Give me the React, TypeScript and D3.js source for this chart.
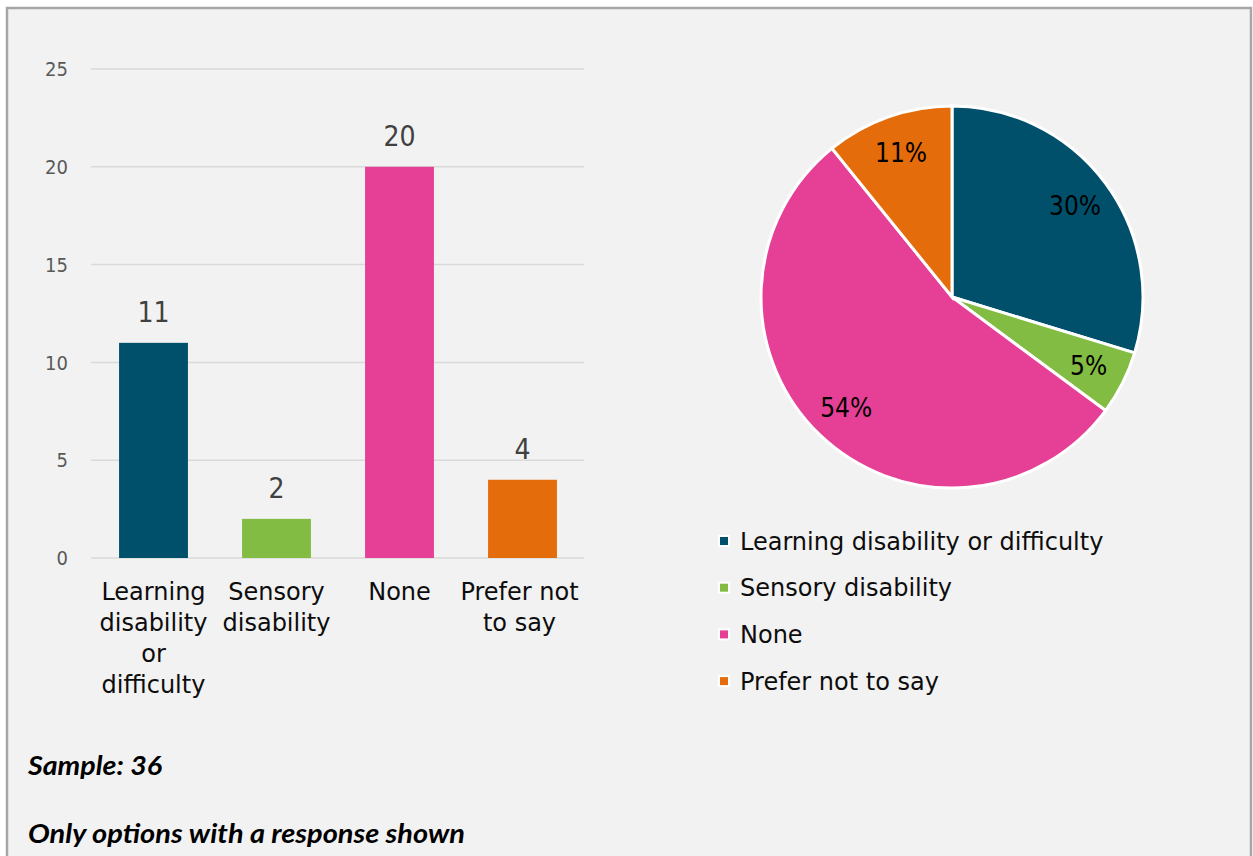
import React from "react";
import * as d3 from "d3";

const categories = ["Learning disability or difficulty", "Sensory disability", "None", "Prefer not to say"];
const categoryLines = [["Learning", "disability", "or", "difficulty"], ["Sensory", "disability"], ["None"], ["Prefer not", "to say"]];
const counts = [11, 2, 20, 4];
const colors = ["#00506b", "#82bc42", "#e54096", "#e46c0a"];
const yTicks = [0, 5, 10, 15, 20, 25];
const sampleText = "Sample: 36";
const noteText = "Only options with a response shown";

const W = 1253;
const H = 856;
const FONT = "'DejaVu Sans', sans-serif";
const FONT_C = "'DejaVu Sans Condensed', 'DejaVu Sans', sans-serif";
const NOTE_FONT = "Lato, 'Open Sans', sans-serif";

export default function App() {
  const x = d3.scaleBand<string>().domain(categories).range([92, 584]).paddingInner(0.44).paddingOuter(0.22);
  const y = d3.scaleLinear().domain([0, 25]).range([558, 69]);

  const total = d3.sum(counts);
  const pie = d3.pie<number>().sort(null).value((d) => d);
  const arcs = pie(counts);
  const R = 191;
  const cx = 952;
  const cy = 297;
  const arc = d3.arc<d3.PieArcDatum<number>>().innerRadius(0).outerRadius(R);
  const labelArc = d3.arc<d3.PieArcDatum<number>>().innerRadius(153).outerRadius(153);

  return (
    <svg width={W} height={H} style={{ position: "absolute", left: 0, top: 0 }}>
      <rect x={0} y={0} width={W} height={H} fill="#ffffff" />
      <rect x={7} y={8} width={1244} height={860} fill="#f2f2f2" stroke="#a6a6a6" strokeWidth={2.5} />
      {yTicks.map((t) => (
        <g key={t}>
          <line x1={91} x2={584} y1={y(t)} y2={y(t)} stroke="#d9d9d9" strokeWidth={1.5} />
          <text x={68} y={y(t)} dy="0.36em" textAnchor="end" fontFamily={FONT_C} fontSize={20} fill="#595959">
            {t}
          </text>
        </g>
      ))}
      {categories.map((c, i) => (
        <g key={c}>
          <rect x={x(c)} y={y(counts[i])} width={x.bandwidth()} height={y(0) - y(counts[i])} fill={colors[i]} />
          <text
            x={(x(c) as number) + x.bandwidth() / 2}
            y={y(counts[i]) - 31}
            dy="0.36em"
            textAnchor="middle"
            fontFamily={FONT_C}
            fontSize={28}
            fill="#404040"
          >
            {counts[i]}
          </text>
          {categoryLines[i].map((ln, j) => (
            <text
              key={j}
              x={(x(c) as number) + x.bandwidth() / 2 - (i === 3 ? 3 : 0)}
              y={591 + j * 31}
              dy="0.36em"
              textAnchor="middle"
              fontFamily={FONT}
              fontSize={24}
              fill="#0d0d0d"
            >
              {ln}
            </text>
          ))}
        </g>
      ))}
      <g transform={`translate(${cx},${cy})`}>
        {arcs.map((a, i) => (
          <path key={i} d={arc(a) as string} fill={colors[i]} stroke="#ffffff" strokeWidth={3} />
        ))}
        {arcs.map((a, i) => {
          const [lx, ly] = labelArc.centroid(a);
          return (
            <text key={i} x={lx} y={ly} dy="0.36em" textAnchor="middle" fontFamily={FONT_C} fontSize={26} fill="#000000">
              {`${Math.round((counts[i] / total) * 100)}%`}
            </text>
          );
        })}
      </g>
      {categories.map((c, i) => (
        <g key={c}>
          <rect x={718} y={535 + i * 46.7} width={12} height={12} fill="#ffffff" />
          <rect x={720} y={537 + i * 46.7} width={8} height={8} fill={colors[i]} />
          <text x={740} y={541 + i * 46.7} dy="0.36em" fontFamily={FONT} fontSize={24} fill="#0d0d0d">
            {c}
          </text>
        </g>
      ))}
      <text x={28} y={775} fontFamily={NOTE_FONT} fontStyle="italic" fontWeight="bold" fontSize={26} textLength={134} lengthAdjust="spacingAndGlyphs">
        {sampleText}
      </text>
      <text x={28} y={843} fontFamily={NOTE_FONT} fontStyle="italic" fontWeight="bold" fontSize={26} textLength={437} lengthAdjust="spacingAndGlyphs">
        {noteText}
      </text>
    </svg>
  );
}
